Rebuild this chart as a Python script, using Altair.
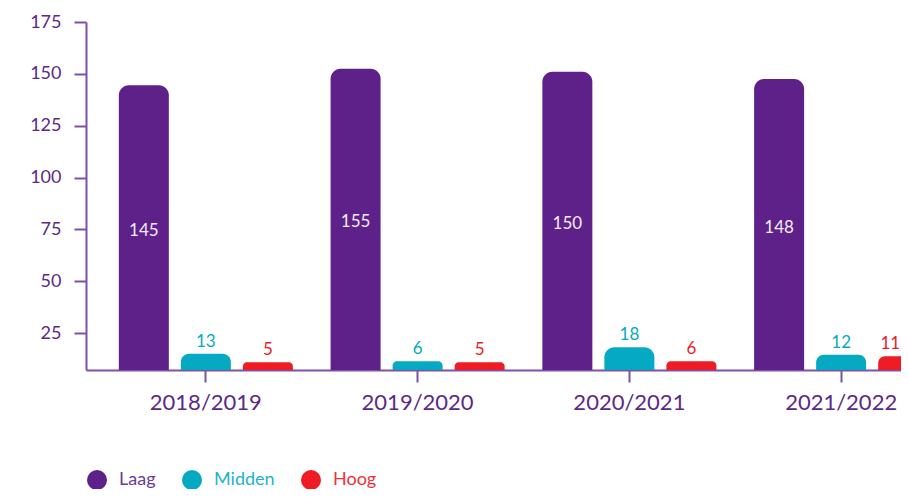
import altair as alt
import pandas as pd

years = ["2018/2019", "2019/2020", "2020/2021", "2021/2022"]
series = ["Laag", "Midden", "Hoog"]
colors = ["#5E2189", "#05AAC2", "#EE1C25"]

# printed values
laag = [145, 155, 150, 148]
midden = [13, 6, 18, 12]
hoog = [5, 5, 6, 11]

# visible bar tops (small bars are drawn taller)
laag_top = [144.5, 152.5, 151, 147.5]
midden_top = [15.1, 11.5, 18.2, 14.6]
hoog_top = [11, 11, 11.5, 13.9]

y_min = 7.25
y_ticks = [25, 50, 75, 100, 125, 150, 175]

rows = []
for s, vals, tops in [("Laag", laag, laag_top), ("Midden", midden, midden_top), ("Hoog", hoog, hoog_top)]:
    for yr, v, t in zip(years, vals, tops):
        rows.append({"year": yr, "series": s, "value": v, "top": t, "base": y_min,
                     "mid": (t + y_min) / 2})
df = pd.DataFrame(rows)

FONT = "Lato"
AXIS_C = "#7E51A8"
TEXT_C = "#5B2A88"
EDGE = "datum.series == 'Hoog' && datum.year == '2021/2022'"

x_enc = alt.X("year:N", sort=years, title=None,
              scale=alt.Scale(paddingInner=0, paddingOuter=0.066, range=[0, 875]),
              axis=alt.Axis(labelAngle=0, labelFontSize=22, labelFont=FONT, labelColor=TEXT_C,
                            domainColor=AXIS_C, domainWidth=2, tickColor=AXIS_C, tickWidth=2,
                            tickSize=12, labelPadding=10, grid=False))
xo_enc = alt.XOffset("series:N", sort=series,
                     scale=alt.Scale(paddingInner=0.194, paddingOuter=0.304))
y_scale = alt.Scale(domain=[y_min, 175], nice=False, zero=False)

color_scale = alt.Scale(domain=series, range=colors)

bars = alt.Chart(df).mark_bar(cornerRadiusTopLeft=10, cornerRadiusTopRight=10).encode(
    x=x_enc,
    xOffset=xo_enc,
    y=alt.Y("top:Q", scale=y_scale, title=None,
            axis=alt.Axis(values=y_ticks, labelFontSize=18, labelFont=FONT, labelColor=TEXT_C,
                          domainColor=AXIS_C, domainWidth=2, tickColor=AXIS_C, tickWidth=2,
                          tickSize=12, labelPadding=13, grid=False)),
    y2=alt.Y2("base:Q"),
    color=alt.Color("series:N", scale=color_scale, sort=series, title=None,
                    legend=alt.Legend(orient="none", legendX=1, legendY=448, direction="horizontal",
                                      symbolType="circle", symbolSize=400, symbolStrokeWidth=0,
                                      symbolOpacity=1, labelFontSize=18, labelFont=FONT,
                                      labelOffset=12, columnPadding=26,
                                      labelColor=alt.ExprRef(
                                          "datum.label == 'Laag' ? '#6A3A9C' : datum.label == 'Midden' ? '#1FB3C8' : '#EE3038'"))),
)

inner = alt.Chart(df).transform_filter("datum.series == 'Laag'").mark_text(
    font=FONT, fontSize=17, color="#F2ECF6", baseline="middle", dy=3).encode(
    x=alt.X("year:N", sort=years),
    xOffset=alt.XOffset("series:N", sort=series),
    y=alt.Y("mid:Q"),
    text="value:Q",
)

above = alt.Chart(df).transform_filter(f"datum.series != 'Laag' && !({EDGE})").mark_text(
    font=FONT, fontSize=17, baseline="alphabetic", dy=-7).encode(
    x=alt.X("year:N", sort=years),
    xOffset=alt.XOffset("series:N", sort=series),
    y=alt.Y("top:Q"),
    text="value:Q",
    color=alt.Color("series:N", scale=color_scale, sort=series, legend=None),
)

# the last label sits at the picture's right edge: keep it readable
edge = alt.Chart(df).transform_filter(EDGE).mark_text(
    font=FONT, fontSize=17, baseline="alphabetic", dy=-7, align="right", dx=-3).encode(
    x=alt.X("year:N", sort=years),
    xOffset=alt.XOffset("series:N", sort=series),
    y=alt.Y("top:Q"),
    text="value:Q",
    color=alt.Color("series:N", scale=color_scale, sort=series, legend=None),
)

chart = alt.layer(bars, inner, above, edge).properties(
    width=815, height=348,
    autosize=alt.AutoSizeParams(type="none"),
    padding={"left": 78, "top": 14, "right": 0, "bottom": 119},
).configure(background="white").configure_view(stroke=None)

chart.save("out.html", embed_options={"renderer": "svg", "actions": False})
